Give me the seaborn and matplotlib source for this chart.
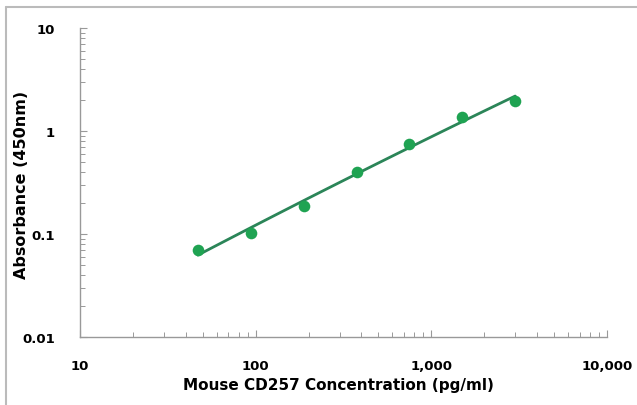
import numpy as np
import pandas as pd
import matplotlib
matplotlib.use("Agg")
import matplotlib.pyplot as plt
import seaborn as sns
from matplotlib.ticker import FixedLocator, LogLocator, NullFormatter
from matplotlib.lines import Line2D

# Standard curve data
concentration = [46.875, 93.75, 187.5, 375, 750, 1500, 3000]
absorbance = [0.070, 0.102, 0.187, 0.40, 0.75, 1.37, 1.97]
x_ticks = [10, 100, 1000, 10000]
x_tick_labels = ["10", "100", "1,000", "10,000"]
y_ticks = [0.01, 0.1, 1, 10]
y_tick_labels = ["0.01", "0.1", "1", "10"]

df = pd.DataFrame({"conc": concentration, "od": absorbance})

# smooth fit in log-log space (2nd order)
coef = np.polyfit(np.log10(df["conc"]), np.log10(df["od"]), 2)
lx = np.linspace(np.log10(df["conc"].min()), np.log10(df["conc"].max()), 60)
fit = pd.DataFrame({"conc": 10 ** lx, "od": 10 ** np.polyval(coef, lx)})

sns.set_style("white")
plt.rcParams["font.family"] = ["DejaVu Sans"]
plt.rcParams["text.color"] = "black"

fig = plt.figure(figsize=(6.37, 4.06), dpi=100)
ax = fig.add_axes([0.1256, 0.1675, 0.8274, 0.761])

sns.lineplot(data=fit, x="conc", y="od", ax=ax, color="#2b8558", linewidth=2.0)
sns.scatterplot(data=df, x="conc", y="od", ax=ax, color="#1fa352", s=70,
                linewidth=0, zorder=3)

ax.set_xscale("log")
ax.set_yscale("log")
ax.set_xlim(10, 10000)
ax.set_ylim(0.01, 10)

ax.xaxis.set_major_locator(FixedLocator(x_ticks))
ax.set_xticklabels(x_tick_labels)
ax.yaxis.set_major_locator(FixedLocator(y_ticks))
ax.set_yticklabels(y_tick_labels)
ax.xaxis.set_minor_locator(LogLocator(base=10, subs=np.arange(2, 10)))
ax.yaxis.set_minor_locator(LogLocator(base=10, subs=np.arange(2, 10)))
ax.xaxis.set_minor_formatter(NullFormatter())
ax.yaxis.set_minor_formatter(NullFormatter())

ax.tick_params(axis="both", which="both", bottom=True, left=True)
ax.tick_params(axis="both", which="major", direction="in", length=5, width=0.8,
               color="#999999", labelsize=9.5, pad=16, labelcolor="black")
ax.tick_params(axis="y", which="major", pad=18)
ax.tick_params(axis="both", which="minor", direction="in", length=3.5,
               width=0.7, color="#999999")
for lab in ax.get_xticklabels() + ax.get_yticklabels():
    lab.set_fontweight("bold")

sns.despine(ax=ax)
for side in ["left", "bottom"]:
    ax.spines[side].set_color("#999999")
    ax.spines[side].set_linewidth(1.0)

ax.set_xlabel("Mouse CD257 Concentration (pg/ml)", fontsize=11,
              fontweight="bold", color="black")
ax.set_ylabel("Absorbance (450nm)", fontsize=11.5, fontweight="bold",
              color="black")
ax.xaxis.set_label_coords(0.49, -0.128)
ax.yaxis.set_label_coords(-0.097, 0.495)

# light frame at the top and left edge of the image
fig.add_artist(Line2D([6 / 637, 6 / 637], [0, 1 - 8 / 406],
                      transform=fig.transFigure, color="#bbbbbb", lw=1.5))
fig.add_artist(Line2D([6 / 637, 1], [1 - 8 / 406, 1 - 8 / 406],
                      transform=fig.transFigure, color="#bbbbbb", lw=1.5))

fig.savefig("out.png", dpi=100)
